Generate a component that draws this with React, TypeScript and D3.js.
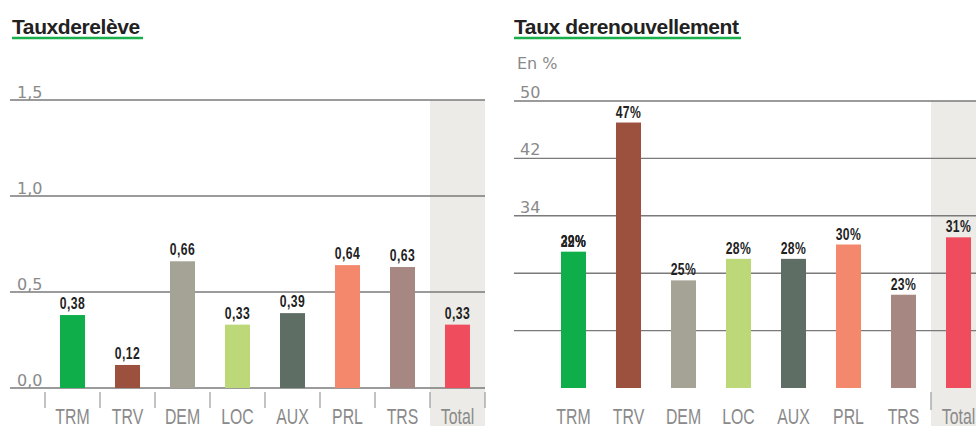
import * as d3 from "d3";

const categories = ["TRM", "TRV", "DEM", "LOC", "AUX", "PRL", "TRS", "Total"];
const barColors = ["#0fae4b", "#9c503e", "#a5a396", "#bdd878", "#5e6e65", "#f4886d", "#a68781", "#ef4c5d"];

// Taux de relève
const releveValues = [0.38, 0.12, 0.66, 0.33, 0.39, 0.64, 0.63, 0.33];
const releveTicks = [0, 0.5, 1.0, 1.5];

// Taux de renouvellement (%)
const renouvValues = [29, 47, 25, 28, 28, 30, 23, 31];
const renouvTicks = [18, 26, 34, 42, 50];
const renouvTickLabels = ["", "", "34", "42", "50"];
// the reference prints a second label on top of TRM
const renouvOverlay = [{ cat: "TRM", text: "32%" }];

const W = 976;
const H = 426;
const gridColor = "#7a7a7a";
const sansFont = "'Liberation Sans', Arial, sans-serif";
const tickFont = "'DejaVu Sans', sans-serif";
const frNum = (v: number) => v.toFixed(2).replace(".", ",");

// condensed text: squeeze horizontally around its anchor point
function NText({ x, y, sx, children, ...rest }: any) {
  return (
    <text transform={`translate(${x},${y}) scale(${sx},1)`} textAnchor="middle" fontFamily={sansFont} {...rest}>
      {children}
    </text>
  );
}

const ValueLabel = ({ x, y, text }: { x: number; y: number; text: string }) => (
  <NText x={x} y={y} sx={0.76} fontWeight="bold" fontSize={16} fill="#222" letterSpacing={0.6}>
    {text}
  </NText>
);

const CatLabel = ({ x, text }: { x: number; text: string }) => (
  <NText x={x} y={424} sx={0.72} fontSize={22} fill="#8a8a8a">
    {text}
  </NText>
);

function Title({ x, text, width }: { x: number; text: string; width: number }) {
  return (
    <g>
      <text x={x} y={34} fontFamily={sansFont} fontWeight="bold" fontSize={21} fill="#222" letterSpacing={-0.4}>
        {text}
      </text>
      <line x1={x} x2={x + width} y1={38} y2={38} stroke="#19b04b" strokeWidth={2.5} />
    </g>
  );
}

function Releve() {
  const x = d3.scaleBand<string>().domain(categories).range([45, 485]).paddingInner(0.545).paddingOuter(0.2725);
  const y = d3.scaleLinear().domain([0, 1.5]).range([388, 100]);
  const step = x.step();
  const totalX = (x("Total") as number) - (step - x.bandwidth()) / 2;
  const seps = d3.range(categories.length + 1).map((i) => 45 + i * step);
  const cx = (c: string) => (x(c) as number) + x.bandwidth() / 2;
  return (
    <g>
      <Title x={12} text="Tauxderelève" width={131} />
      <rect x={totalX} y={y(1.5)} width={step} height={H - y(1.5)} fill="#ecebe7" />
      {releveTicks.map((t) => (
        <g key={t}>
          <line x1={10} x2={485} y1={y(t)} y2={y(t)} stroke={gridColor} strokeWidth={1.4} />
          <text x={17} y={y(t) - 2} fontFamily={tickFont} fontSize={16} fill="#8a8a8a">
            {t.toFixed(1).replace(".", ",")}
          </text>
        </g>
      ))}
      {categories.map((c, i) => (
        <g key={c}>
          <rect x={x(c)} y={y(releveValues[i])} width={x.bandwidth()} height={y(0) - y(releveValues[i])} fill={barColors[i]} />
          <ValueLabel x={cx(c)} y={y(releveValues[i]) - 6} text={frNum(releveValues[i])} />
          <CatLabel x={cx(c)} text={c} />
        </g>
      ))}
      {seps.map((s) => (
        <line key={s} x1={s} x2={s} y1={392} y2={408} stroke="#9a9a9a" strokeWidth={1.2} />
      ))}
    </g>
  );
}

function Renouvellement() {
  const x = d3.scaleBand<string>().domain(categories).range([546, 986]).paddingInner(0.545).paddingOuter(0.2725);
  const y = d3.scaleLinear().domain([10, 50]).range([388, 101]);
  const step = x.step();
  const totalX = (x("Total") as number) - (step - x.bandwidth()) / 2;
  const cx = (c: string) => (x(c) as number) + x.bandwidth() / 2;
  return (
    <g>
      <Title x={514} text="Taux derenouvellement" width={227} />
      <text x={517} y={69} fontFamily={tickFont} fontSize={16} fill="#8a8a8a">En %</text>
      <rect x={totalX} y={y(50)} width={step} height={H - y(50)} fill="#ecebe7" />
      {renouvTicks.map((t, i) => (
        <g key={t}>
          <line x1={514} x2={W} y1={y(t)} y2={y(t)} stroke={gridColor} strokeWidth={1.4} />
          <text x={520} y={y(t) - 3} fontFamily={tickFont} fontSize={16} fill="#8a8a8a">
            {renouvTickLabels[i]}
          </text>
        </g>
      ))}
      {categories.map((c, i) => (
        <g key={c}>
          <rect x={x(c)} y={y(renouvValues[i])} width={x.bandwidth()} height={y(10) - y(renouvValues[i])} fill={barColors[i]} />
          <ValueLabel x={cx(c)} y={y(renouvValues[i]) - 5} text={`${renouvValues[i]}%`} />
          <CatLabel x={cx(c)} text={c} />
        </g>
      ))}
      {renouvOverlay.map((o) => (
        <ValueLabel key={o.cat} x={cx(o.cat)} y={y(renouvValues[categories.indexOf(o.cat)]) - 5} text={o.text} />
      ))}
      <line x1={totalX} x2={totalX} y1={392} y2={410} stroke="#9a9a9a" strokeWidth={1.2} />
    </g>
  );
}

export default function App() {
  return (
    <div style={{ position: "fixed", left: 0, top: 0 }}>
      <svg width={W} height={H} viewBox={`0 0 ${W} ${H}`} style={{ display: "block", background: "#fff" }}>
        <Releve />
        <Renouvellement />
      </svg>
    </div>
  );
}
